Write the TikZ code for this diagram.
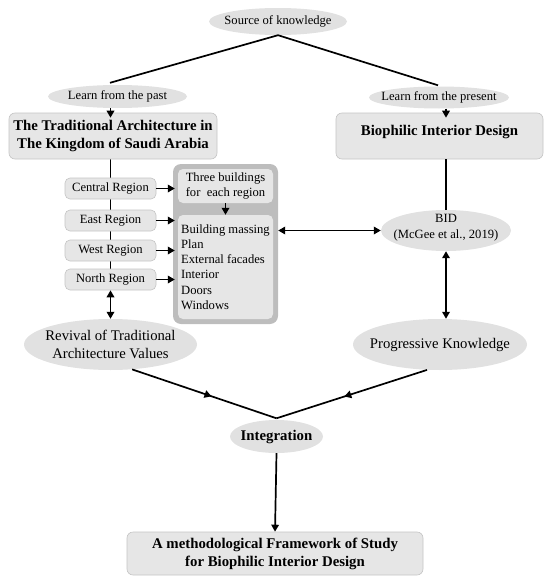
\documentclass[tikz,border=0pt]{standalone}
\usepackage{fontspec}
\setmainfont{Liberation Serif}
\usetikzlibrary{arrows.meta,shapes.geometric,decorations.markings,backgrounds}
\definecolor{boxfill}{HTML}{E6E6E6}
\definecolor{ellfill}{HTML}{E1E1E1}
\definecolor{boxline}{HTML}{C4C4C4}
\definecolor{outerfill}{HTML}{BDBDBD}
\begin{document}
\begin{tikzpicture}[x=1pt,y=-1pt,
  smalltxt/.style={font=\fontsize{12.6}{15.2}\selectfont},
  bigtxt/.style={font=\bfseries\fontsize{14.8}{18}\selectfont},
  midtxt/.style={font=\fontsize{14.7}{18}\selectfont},
  ell/.style={ellipse, fill=ellfill, inner xsep=-10pt, inner ysep=-6pt, align=center},
  rbox/.style={rectangle, rounded corners=6pt, fill=boxfill, draw=boxline, line width=0.6pt, inner sep=0pt, align=center},
  inbox/.style={rectangle, rounded corners=5pt, fill=boxfill, inner sep=0pt},
  conn/.style={line width=1.7pt},
  arr/.style={conn, -{Triangle[length=7pt,width=7.5pt]}},
  darr/.style={conn, {Triangle[length=7pt,width=7.5pt]}-{Triangle[length=7pt,width=7.5pt]}},
  midarr/.style={conn, postaction={decorate}, decoration={markings, mark=at position 0.55 with {\arrow{Triangle[length=7pt,width=7.5pt]}}}}
]
\useasboundingbox (0,0) rectangle (550,586);

% top
\node[ell,smalltxt,minimum width=138pt,minimum height=27pt] (src) at (278,21.5) {Source of knowledge};
\node[ell,smalltxt,minimum width=139pt,minimum height=23pt] (past) at (117.5,96.5) {Learn from the past};
\node[ell,smalltxt,minimum width=140pt,minimum height=22pt] (present) at (439,97.5) {Learn from the present};
\node[rbox,bigtxt,minimum width=208pt,minimum height=46pt] (trad) at (113,136) {The Traditional Architecture in\\The Kingdom of Saudi Arabia};
\node[rbox,bigtxt,minimum width=207pt,minimum height=46pt] (bidd) at (439.5,136) {Biophilic Interior Design\\[-6pt]\mbox{}};

% regions
\node[rbox,smalltxt,rounded corners=5pt,minimum width=91pt,minimum height=21pt] (central) at (110.5,188.5) {Central Region};
\node[rbox,smalltxt,rounded corners=5pt,minimum width=91pt,minimum height=21pt] (east) at (110.5,220.5) {East Region};
\node[rbox,smalltxt,rounded corners=5pt,minimum width=91pt,minimum height=21pt] (west) at (110.5,250.5) {West Region};
\node[rbox,smalltxt,rounded corners=5pt,minimum width=91pt,minimum height=21pt] (north) at (110.5,279.5) {North Region};

% buildings box
\node[rectangle,rounded corners=8pt,fill=outerfill,minimum width=105pt,minimum height=160pt] (outer) at (225.5,244) {};
\node[inbox,smalltxt,align=center,minimum width=95pt,minimum height=34pt] (three) at (225.5,186) {Three buildings\\for~ each region};
\node[inbox,smalltxt,align=left,minimum width=95pt,minimum height=104pt] (list) at (225.5,267)
  {Building massing\\Plan\\External facades\\Interior\\Doors\\Windows};

% right side
\node[ell,smalltxt,minimum width=130pt,minimum height=41pt] (bid) at (446,230.5) {BID\\(McGee et al., 2019)\\[-7pt]\mbox{}};
\node[ell,midtxt,minimum width=173pt,minimum height=51pt] (revival) at (110.5,344.5) {Revival of Traditional\\Architecture Values};
\node[ell,midtxt,minimum width=174pt,minimum height=51pt] (prog) at (440,344.5) {Progressive Knowledge};

% bottom
\node[ell,bigtxt,minimum width=93pt,minimum height=33pt] (integ) at (276.5,436.5) {Integration};
\node[rbox,bigtxt,minimum width=296pt,minimum height=43pt] (frame) at (275,553.5) {A methodological Framework of Study\\for Biophilic Interior Design};

% connectors
\begin{scope}[on background layer]
  \draw[conn] (trad.south -| central) -- (north.north);
\end{scope}
\draw[conn] (src.south) -- ([xshift=-7.5pt,yshift=2pt]past.north);
\draw[conn] (src.south) -- ([xshift=-1pt,yshift=1pt]present.north);
\draw[arr] (past.south -| central) -- ([yshift=-5pt]trad.north -| central);
\draw[arr] (present.south -| bid) -- ([yshift=-5pt]bidd.north -| bid);
\draw[conn] (bidd.south -| bid) -- (bid.north);

\draw[arr] (central.east) -- ([xshift=2pt]central.east -| outer.west);
\draw[arr] (east.east) -- ([xshift=2pt]east.east -| outer.west);
\draw[arr] (west.east) -- ([xshift=2pt]west.east -| outer.west);
\draw[arr] (north.east) -- ([xshift=2pt]north.east -| outer.west);
\draw[arr] (three.south) -- (list.north);

\draw[darr] (outer.east |- bid) -- (bid.west);
\draw[darr] (north.south) -- (revival.north);
\draw[darr] (bid.south) -- (bid.south |- prog.north);

\draw[midarr] (revival.-49) -- ([yshift=1.5pt]integ.north);
\draw[midarr] (prog.-117) -- ([yshift=1.5pt]integ.north);
\draw[arr] (integ.south) -- (frame.north);
\end{tikzpicture}
\end{document}
